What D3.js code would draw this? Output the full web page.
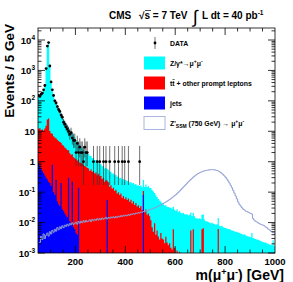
<!DOCTYPE html>
<html>
<head>
<meta charset="utf-8">
<script src="https://cdn.jsdelivr.net/npm/d3@7"></script>
<style>
  body { margin: 0; background: #fff; }
</style>
</head>
<body>
<div id="chart"></div>
<script>
// 5 GeV bins, first bin starts at 50 GeV
const binLo = 50, binW = 5;

// Z/gamma* -> mu mu
const dyZ = [
  140, 135, 150, 170, 205, 300, 1040, 6180, 8080, 1340,
  390, 200, 135, 100, 78, 62, 49, 40, 31, 25,
  21, 17.5, 14.5, 12.5, 10.5, 9, 7.8, 6.8, 5.9, 5.1,
  3.9, 3.4, 3.0, 2.6, 2.2, 1.9, 1.7, 1.5, 1.35, 1.25,
  1.2, 1.05, 1.0, 0.86, 0.82, 0.72, 0.68, 0.6, 0.57, 0.5,
  0.48, 0.44, 0.42, 0.38, 0.37, 0.34, 0.33, 0.3, 0.3, 0.27,
  0.27, 0.25, 0.25, 0.23, 0.23, 0.21, 0.21, 0.19, 0.195, 0.18,
  0.185, 0.175, 0.17, 0.16, 0.16, 0.15, 0.15, 0.14, 0.14, 0.13,
  0.13, 0.128, 0.135, 0.12, 0.14, 0.125, 0.15, 0.13, 0.14, 0.12,
  0.125, 0.11, 0.1, 0.085, 0.075, 0.064, 0.056, 0.05, 0.045, 0.04,
  0.037, 0.034, 0.034, 0.031, 0.031, 0.029, 0.029, 0.027, 0.027, 0.025,
  0.024, 0.026, 0.022, 0.023, 0.021, 0.02, 0.021, 0.019, 0.018, 0.019,
  0.017, 0.018, 0.016, 0.016, 0.015, 0.016, 0.014, 0.014, 0.013, 0.014,
  0.013, 0.012, 0.012, 0.0125, 0.011, 0.011, 0.0105, 0.01, 0.0095, 0.01,
  0.0092, 0.009, 0.0085, 0.0088, 0.008, 0.0078, 0.0075, 0.0078, 0.007, 0.0068,
  0.0066, 0.0064, 0.006, 0.0062, 0.0058, 0.0055, 0.0054, 0.0052, 0.005, 0.0049,
  0.0047, 0.0045, 0.0044, 0.0042, 0.004, 0.0041, 0.0038, 0.0036, 0.0035, 0.0034,
  0.0033, 0.0045, 0.0031, 0.003, 0.0029, 0.0028, 0.0027, 0.0026, 0.0025, 0.0024,
  0.0023, 0.0022, 0.0022, 0.0021, 0.002, 0.0019, 0.0019, 0.0018, 0.0026, 0.0017
];

// ttbar + other prompt leptons
const ttOther = [
  11, 12, 10.5, 11, 10, 12, 15, 24, 26, 10,
  8.5, 7.5, 6.8, 6.2, 5.6, 5.2, 4.8, 4.4, 4.0, 3.6,
  3.3, 2.9, 2.7, 2.4, 2.1, 1.9, 1.7, 1.55, 1.4, 1.3,
  1.2, 1.1, 1.05, 0.95, 0.9, 0.85, 0.78, 0.72, 0.68, 0.63,
  0.6, 0.5, 0.56, 0.47, 0.5, 0.41, 0.44, 0.36, 0.4, 0.33,
  0.34, 0.27, 0.3, 0.22, 0.25, 0.18, 0.21, 0.15, 0.17, 0.13,
  0.14, 0.11, 0.12, 0.09, 0.1, 0.08, 0.09, 0.065, 0.075, 0.06,
  0.068, 0.055, 0.062, 0.048, 0.056, 0.042, 0.05, 0.038, 0.044, 0.034,
  0.037, 0.03, 0.035, 0.026, 0.03, 0.022, 0.027, 0.018, 0.02, 0.016,
  0.012, 0.007, 0.005, 0.0095, 0.004, 0.0055, 0.0035, 0.0028, 0.0045, 0.003,
  0.0028, 0.0021, 0.0034, 0.0022, 0.0018, 0.0021, 0.0015, 0.0013, 0.006, 0.0015,
  0, 0.0012, 0, 0.0011, 0, 0, 0, 0, 0, 0,
  0, 0, 0.0055, 0, 0.006, 0, 0, 0, 0, 0,
  0, 0.006, 0.0065, 0, 0, 0, 0, 0, 0, 0,
  0, 0, 0, 0, 0.0062, 0, 0, 0, 0, 0,
  0, 0, 0, 0, 0, 0, 0, 0, 0, 0,
  0, 0, 0, 0, 0, 0, 0, 0, 0, 0,
  0, 0, 0, 0, 0, 0, 0, 0, 0, 0,
  0, 0, 0, 0, 0, 0, 0, 0, 0, 0
];

// jets (QCD)
const jets = [
  0.9, 0.75, 0.6, 0.5, 0.42, 0.35, 0.3, 0.26, 0.22, 0.2,
  0.16, 0.8, 0.1, 0.08, 0.25, 0.05, 0.04, 0.035, 0.2, 0.028,
  0.024, 0.02, 0.017, 0.015, 0.3, 0.011, 0.009, 0.22, 0.007, 0.006,
  0.0045, 0.004, 0.14, 0, 0, 0, 0, 0, 0, 0,
  0, 0, 0, 0, 0, 0, 0, 0, 0, 0,
  0, 0, 0, 0, 0, 0.055, 0, 0, 0, 0,
  0, 0, 0, 0, 0, 0, 0, 0, 0, 0,
  0, 0, 0, 0, 0, 0, 0, 0, 0, 0,
  0, 0, 0, 0, 0.08, 0, 0, 0, 0, 0,
  0, 0, 0, 0, 0, 0, 0, 0, 0, 0,
  0, 0, 0, 0, 0, 0, 0, 0, 0, 0,
  0, 0, 0, 0, 0, 0, 0, 0, 0, 0,
  0, 0, 0, 0, 0, 0, 0, 0, 0, 0,
  0, 0, 0, 0, 0, 0, 0, 0, 0, 0,
  0, 0, 0, 0, 0, 0, 0, 0, 0, 0,
  0, 0, 0, 0, 0, 0, 0, 0, 0, 0,
  0, 0, 0, 0, 0, 0, 0, 0, 0, 0,
  0, 0, 0, 0, 0, 0, 0, 0, 0, 0,
  0, 0, 0, 0, 0, 0, 0, 0, 0, 0
];

// Z'SSM (750 GeV) signal
const zPrime = [
  0, 0.0022, 0.0035, 0.0028, 0.0042, 0.003, 0.0038, 0.0045, 0.0036, 0.005,
  0.0042, 0.0055, 0.0048, 0.006, 0.0052, 0.0068, 0.0058, 0.0072, 0.0063, 0.0078,
  0.0068, 0.0082, 0.0075, 0.0088, 0.0078, 0.0092, 0.0085, 0.0098, 0.0087, 0.0095,
  0.0102, 0.0089, 0.0108, 0.0096, 0.011, 0.0099, 0.0115, 0.0103, 0.0118, 0.0106,
  0.0112, 0.0123, 0.0108, 0.0127, 0.0115, 0.0128, 0.0119, 0.0134, 0.0121, 0.0135,
  0.0124, 0.0141, 0.0129, 0.0137, 0.0148, 0.0132, 0.0146, 0.0139, 0.0152, 0.0143,
  0.0155, 0.0142, 0.0158, 0.0147, 0.0162, 0.0153, 0.0168, 0.0158, 0.0172, 0.0165,
  0.0176, 0.0168, 0.0182, 0.0174, 0.0191, 0.0184, 0.0197, 0.0189, 0.0205, 0.0199,
  0.0212, 0.0206, 0.0221, 0.0218, 0.0232, 0.0228, 0.0245, 0.0241, 0.0258, 0.0262,
  0.0275, 0.0281, 0.0296, 0.0302, 0.0318, 0.0331, 0.0347, 0.0362, 0.0383, 0.0401,
  0.0425, 0.0448, 0.0472, 0.0503, 0.0534, 0.0571, 0.0608, 0.0655, 0.0702, 0.0768,
  0.082, 0.089, 0.098, 0.108, 0.119, 0.131, 0.145, 0.16, 0.177, 0.196,
  0.215, 0.237, 0.26, 0.284, 0.31, 0.335, 0.36, 0.385, 0.41, 0.43,
  0.45, 0.47, 0.488, 0.502, 0.515, 0.525, 0.532, 0.54, 0.545, 0.548,
  0.546, 0.54, 0.53, 0.515, 0.495, 0.47, 0.44, 0.41, 0.375, 0.34,
  0.305, 0.27, 0.235, 0.2, 0.168, 0.14, 0.115, 0.093, 0.075, 0.06,
  0.048, 0.04, 0.035, 0.031, 0.028, 0.026, 0.024, 0.023, 0.022, 0.021,
  0.02, 0.019, 0.0135, 0.012, 0.011, 0.0105, 0.0098, 0.0092, 0.0088, 0.0085,
  0.0082, 0.0078, 0.0072, 0.0068, 0.0062, 0.0058, 0.0053, 0.005, 0.0047, 0.0045
];

// observed events per bin (0 = no point drawn)
const dataCounts = [
  150, 140, 165, 180, 230, 320, 1150, 6300, 8200, 1400,
  420, 230, 150, 100, 85, 65, 52, 45, 34, 29,
  20, 17, 14, 12, 10, 8, 9, 6, 5, 5,
  2, 4, 2, 3, 2, 2, 1, 3, 2, 2,
  0, 0, 0, 0, 1, 0, 0, 1, 0, 1,
  0, 0, 1, 0, 1, 0, 0, 1, 0, 0,
  0, 1, 0, 0, 1, 0, 0, 1, 0, 1,
  0, 0, 1, 0, 0, 0, 0, 0, 0, 0,
  0, 1, 0, 0, 0, 0, 0, 0, 0, 0
];

const yTickLabels = ["10-3", "10-2", "10-1", "1", "10", "102", "103", "104"];
const xTickLabels = [200, 400, 600, 800, 1000];

const W = 293, H = 282;
const fr = {l: 38, r: 275, t: 28, b: 253};

const svg = d3.select("#chart").append("svg")
    .attr("width", W).attr("height", H)
    .style("font-family", "'Liberation Sans', Arial, Helvetica, sans-serif");

const x = d3.scaleLinear().domain([50, 1000]).range([fr.l, fr.r]);
const y = d3.scaleLog().domain([1e-3, 2.48e4]).range([fr.b, fr.t]).clamp(true);

const nb = dyZ.length;
const edges = d3.range(nb + 1).map(i => binLo + i * binW);

// stacked levels
const lvlJets = jets.slice();
const lvlTT = ttOther.map((v, i) => v + jets[i]);
const lvlDY = dyZ.map((v, i) => v + ttOther[i] + jets[i]);

svg.append("clipPath").attr("id", "fr")
    .append("rect").attr("x", fr.l).attr("y", fr.t)
    .attr("width", fr.r - fr.l).attr("height", fr.b - fr.t);

const plot = svg.append("g").attr("clip-path", "url(#fr)");

function stepPts(vals) {
    const pts = vals.map((v, i) => [edges[i], v]);
    pts.push([edges[nb], vals[nb - 1]]);
    return pts;
}
const area = d3.area()
    .x(d => x(d[0]))
    .y0(fr.b)
    .y1(d => y(Math.max(d[1], 1e-5)))
    .curve(d3.curveStepAfter);

plot.append("path").attr("d", area(stepPts(lvlDY))).attr("fill", "#00ffff");
plot.append("path").attr("d", area(stepPts(lvlTT))).attr("fill", "#ff0000");
plot.append("path").attr("d", area(stepPts(lvlJets))).attr("fill", "#0000ff");

// Z' line
const zLine = d3.line()
    .x(d => x(d[0]))
    .y(d => y(Math.max(d[1], 1e-5)))
    .curve(d3.curveStepAfter);
plot.append("path").attr("d", zLine(stepPts(zPrime).slice(1)))
    .attr("fill", "none").attr("stroke", "#8d9dd3").attr("stroke-width", 1);

// data with Poisson-like error bars
function errLo(n) { return n * Math.pow(1 - 1 / (9 * n) - 1 / (3 * Math.sqrt(n)), 3); }
function errHi(n) { const m = n + 1; return m * Math.pow(1 - 1 / (9 * m) + 1 / (3 * Math.sqrt(m)), 3); }

const pts = dataCounts.map((n, i) => ({x: edges[i] + binW / 2, n})).filter(d => d.n > 0);
const dg = plot.append("g");
dg.selectAll("line").data(pts).join("line")
    .attr("x1", d => x(d.x)).attr("x2", d => x(d.x))
    .attr("y1", d => y(errHi(d.n))).attr("y2", d => y(Math.max(errLo(d.n), 1e-5)))
    .attr("stroke", "#333").attr("stroke-width", 0.7);
dg.selectAll("circle").data(pts).join("circle")
    .attr("cx", d => x(d.x)).attr("cy", d => y(d.n)).attr("r", 1.4)
    .attr("fill", "#000");

// frame and ticks
const ax = svg.append("g").attr("stroke", "#000").attr("stroke-width", 0.8);
ax.append("rect").attr("x", fr.l).attr("y", fr.t)
    .attr("width", fr.r - fr.l).attr("height", fr.b - fr.t).attr("fill", "none");

x.ticks(19).filter(t => t > 50 && t < 1000).forEach(t => {
    const len = t % 200 === 0 ? 7 : 3.5;
    ax.append("line").attr("x1", x(t)).attr("x2", x(t)).attr("y1", fr.b).attr("y2", fr.b - len);
    ax.append("line").attr("x1", x(t)).attr("x2", x(t)).attr("y1", fr.t).attr("y2", fr.t + len);
});
y.ticks().forEach(t => {
    const lg = Math.log10(t);
    const major = Math.abs(lg - Math.round(lg)) < 1e-6;
    const len = major ? 7 : 3.5;
    ax.append("line").attr("x1", fr.l).attr("x2", fr.l + len).attr("y1", y(t)).attr("y2", y(t));
    ax.append("line").attr("x1", fr.r).attr("x2", fr.r - len).attr("y1", y(t)).attr("y2", y(t));
});

// tick labels
const yl = svg.append("g").attr("font-size", 9.5).attr("font-weight", "bold").attr("text-anchor", "end");
yTickLabels.forEach((s, i) => {
    const v = Math.pow(10, i - 3);
    const t = yl.append("text").attr("x", fr.l - 3).attr("y", y(v) + 3.5);
    if (s.length > 2) {
        t.append("tspan").text("10");
        t.append("tspan").attr("font-size", 6.5).attr("dy", -4).text(s.slice(2));
    } else {
        t.text(s);
    }
});
const xl = svg.append("g").attr("font-size", 9.5).attr("font-weight", "bold").attr("text-anchor", "middle");
xTickLabels.forEach(v => {
    xl.append("text").attr("x", x(v)).attr("y", 265).text(v);
});

// axis titles
const xt = svg.append("text").attr("x", 284).attr("y", 280).attr("text-anchor", "end")
    .attr("font-size", 14).attr("font-weight", "bold");
xt.append("tspan").text("m(\u03bc");
xt.append("tspan").attr("font-size", 9).attr("dy", -5).text("+");
xt.append("tspan").attr("dy", 5).text("\u03bc");
xt.append("tspan").attr("font-size", 9).attr("dy", -5).text("-");
xt.append("tspan").attr("dy", 5).text(") [GeV]");

svg.append("text").attr("transform", "translate(14,24) rotate(-90)")
    .attr("text-anchor", "end").attr("font-size", 13.5).attr("font-weight", "bold")
    .text("Events / 5 GeV");

// header
const hd = svg.append("g").attr("font-weight", "bold").attr("font-size", 10);
hd.append("text").attr("x", 109).attr("y", 19).text("CMS");
hd.append("text").attr("x", 139).attr("y", 19).text("\u221as = 7 TeV");
hd.append("line").attr("x1", 145).attr("x2", 151).attr("y1", 10.5).attr("y2", 10.5)
    .attr("stroke", "#000").attr("stroke-width", 0.7);
hd.append("text").attr("x", 193).attr("y", 23).attr("font-size", 18).attr("font-weight", "normal").text("\u222b");
const lum = hd.append("text").attr("x", 202).attr("y", 19);
lum.append("tspan").text("L dt = 40 pb");
lum.append("tspan").attr("font-size", 6.5).attr("dy", -4).text("-1");

// legend
const lg = svg.append("g").attr("font-size", 6.9).attr("font-weight", "bold");
const rows = [43, 63, 83, 103, 123];
const sw = {x: 144, w: 21, h: 13};
lg.append("line").attr("x1", 155).attr("x2", 155).attr("y1", rows[0] - 6).attr("y2", rows[0] + 6)
    .attr("stroke", "#333").attr("stroke-width", 0.7);
lg.append("circle").attr("cx", 155).attr("cy", rows[0]).attr("r", 1.4);
[["#00ffff", "none"], ["#ff0000", "none"], ["#0000ff", "none"], ["#fff", "#a9b5de"]].forEach((c, i) => {
    lg.append("rect").attr("x", sw.x).attr("y", rows[i + 1] - sw.h / 2)
        .attr("width", sw.w).attr("height", sw.h)
        .attr("fill", c[0]).attr("stroke", c[1]);
});
lg.append("text").attr("x", 170).attr("y", rows[0] + 2.5).text("DATA");
const t1 = lg.append("text").attr("x", 170).attr("y", rows[1] + 2.5);
t1.append("tspan").text("Z/\u03b3*\u2192\u03bc");
t1.append("tspan").attr("font-size", 5).attr("dy", -3).text("+");
t1.append("tspan").attr("dy", 3).text("\u03bc");
t1.append("tspan").attr("font-size", 5).attr("dy", -3).text("-");
const t2 = lg.append("text").attr("x", 170).attr("y", rows[2] + 2.5);
t2.append("tspan").text("t");
t2.append("tspan").text("t\u0304");
t2.append("tspan").text(" + other prompt leptons");
lg.append("text").attr("x", 170).attr("y", rows[3] + 2.5).text("jets");
const t4 = lg.append("text").attr("x", 170).attr("y", rows[4] + 2.5);
t4.append("tspan").text("Z'");
t4.append("tspan").attr("font-size", 5).attr("dy", 2).text("SSM");
t4.append("tspan").attr("dy", -2).text(" (750 GeV) \u2192 \u03bc");
t4.append("tspan").attr("font-size", 5).attr("dy", -3).text("+");
t4.append("tspan").attr("dy", 3).text("\u03bc");
t4.append("tspan").attr("font-size", 5).attr("dy", -3).text("-");
</script>
</body>
</html>
